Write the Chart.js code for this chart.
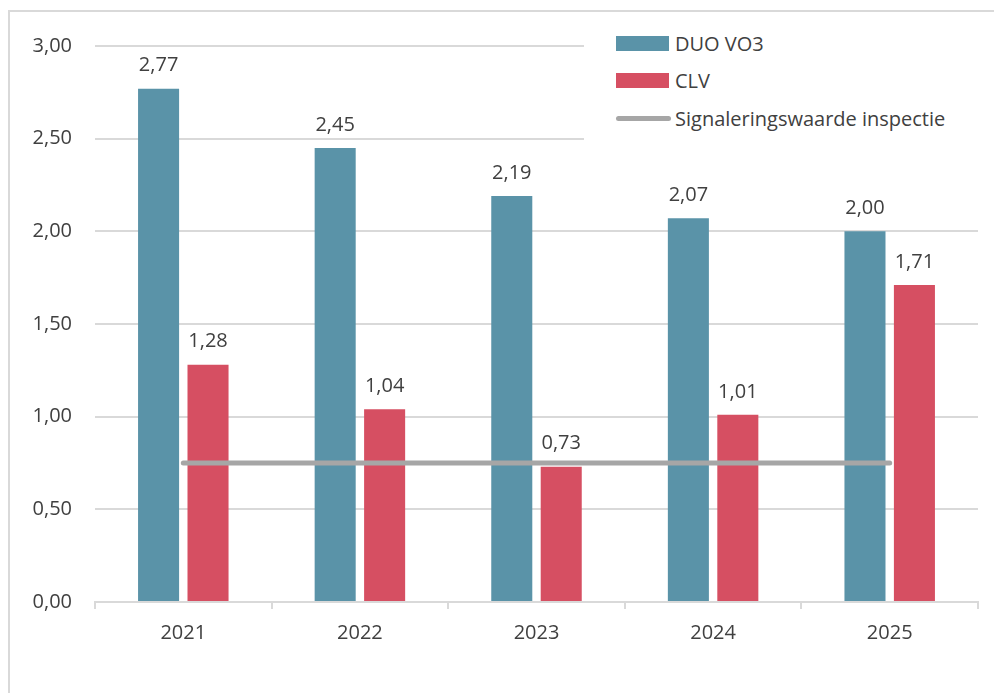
<!DOCTYPE html>
<html lang="nl">
<head>
  <meta charset="UTF-8" />
  <title>DUO VO3 en CLV</title>
  <script src="https://cdn.jsdelivr.net/npm/chart.js"></script>
  <style>
    html, body { margin: 0; padding: 0; background: #fff; }
    body { width: 994px; height: 693px; position: relative; overflow: hidden; font-family: "Open Sans", sans-serif; }
    .kader { position: absolute; left: 8px; top: 10px; width: 1000px; height: 700px; border: 2px solid #d9d9d9; box-sizing: border-box; }
    .grafiek { position: absolute; left: 0; top: 0; width: 994px; height: 693px; }
    .legenda { position: absolute; left: 584px; top: 22px; width: 400px; height: 122px; background: #fff; }
    .item { position: absolute; left: 32px; height: 24px; display: flex; align-items: center; font-size: 20px; color: #404040; white-space: nowrap; }
    .item .vak { width: 53px; height: 15px; margin-right: 6px; }
    .item .lijn { width: 55px; height: 5px; border-radius: 3px; margin-right: 4px; }
  </style>
</head>
<body>
  <div class="kader"></div>
  <div class="grafiek"><canvas id="grafiek" width="994" height="693"></canvas></div>
  <div class="legenda" id="legenda"></div>

<script>
  const jaren = ["2021", "2022", "2023", "2024", "2025"];
  const duoVo3 = [2.77, 2.45, 2.19, 2.07, 2.00];
  const clv = [1.28, 1.04, 0.73, 1.01, 1.71];
  const signalering = [0.75, 0.75, 0.75, 0.75, 0.75];
  const yTicks = [0, 0.5, 1, 1.5, 2, 2.5, 3];

  const kleurDuo = "#5a93a8";
  const kleurClv = "#d64f62";
  const kleurLijn = "#a6a6a6";
  const tekstKleur = "#404040";
  const rasterKleur = "#d9d9d9";

  const komma = v => v.toFixed(2).replace(".", ",");

  // waarden boven de staven
  const labelsPlugin = {
    id: "waardeLabels",
    afterDatasetsDraw(chart) {
      const ctx = chart.ctx;
      ctx.save();
      ctx.font = "20px 'Open Sans'";
      ctx.fillStyle = tekstKleur;
      ctx.textAlign = "center";
      ctx.textBaseline = "middle";
      chart.data.datasets.forEach((ds, i) => {
        if (ds.type === "line") return;
        chart.getDatasetMeta(i).data.forEach((bar, j) => {
          ctx.fillText(komma(ds.data[j]), bar.x, bar.y - 23);
        });
      });
      ctx.restore();
    }
  };

  Chart.defaults.font.family = "'Open Sans', sans-serif";
  Chart.defaults.color = tekstKleur;

  new Chart(document.getElementById("grafiek"), {
    type: "bar",
    data: {
      labels: jaren,
      datasets: [
        { type: "line", label: "Signaleringswaarde inspectie", data: signalering, borderColor: kleurLijn, borderWidth: 5, borderCapStyle: "round", pointRadius: 0, order: 0 },
        { label: "DUO VO3", data: duoVo3, backgroundColor: kleurDuo, order: 1 },
        { label: "CLV", data: clv, backgroundColor: kleurClv, order: 1 }
      ]
    },
    options: {
      responsive: false,
      animation: false,
      devicePixelRatio: 1,
      categoryPercentage: 0.56,
      barPercentage: 0.83,
      layout: { padding: { top: 46, right: 16, left: 0, bottom: 0 } },
      plugins: { legend: { display: false }, tooltip: { enabled: false } },
      scales: {
        x: {
          grid: { display: true, drawOnChartArea: false, color: rasterKleur, lineWidth: 2, tickLength: 7, offset: true },
          border: { color: rasterKleur, width: 2 },
          ticks: { font: { size: 20 }, color: tekstKleur, padding: 12, maxRotation: 0 },
          afterFit: s => { s.height = 91; }
        },
        y: {
          min: 0, max: 3,
          afterBuildTicks: s => { s.ticks = yTicks.map(v => ({ value: v })); },
          grid: { color: rasterKleur, lineWidth: 2, drawTicks: false },
          border: { display: false },
          ticks: { font: { size: 20 }, color: tekstKleur, padding: 23, callback: v => komma(v) },
          afterFit: s => { s.width = 95; }
        }
      }
    },
    plugins: [labelsPlugin]
  });

  // legenda
  const legenda = document.getElementById("legenda");
  const items = [
    { naam: "DUO VO3", kleur: kleurDuo, lijn: false, top: 9 },
    { naam: "CLV", kleur: kleurClv, lijn: false, top: 46 },
    { naam: "Signaleringswaarde inspectie", kleur: kleurLijn, lijn: true, top: 84 }
  ];
  items.forEach(it => {
    const div = document.createElement("div");
    div.className = "item";
    div.style.top = it.top + "px";
    const sw = document.createElement("span");
    sw.className = it.lijn ? "lijn" : "vak";
    sw.style.background = it.kleur;
    div.appendChild(sw);
    div.appendChild(document.createTextNode(it.naam));
    legenda.appendChild(div);
  });
</script>
</body>
</html>
